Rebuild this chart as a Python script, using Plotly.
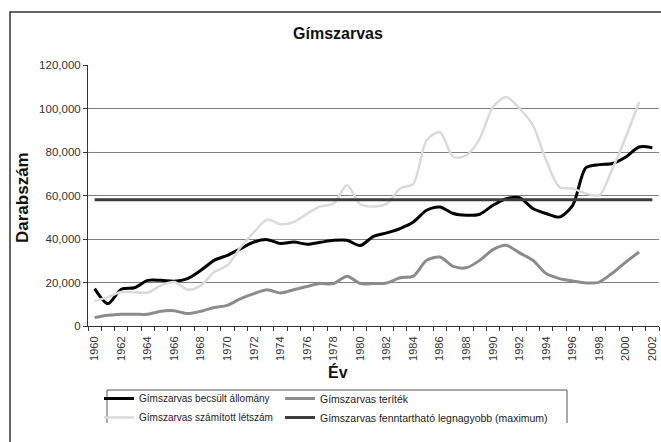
import plotly.graph_objects as go

years = list(range(1960, 2003))

becsult = [17200, 10300, 16900, 17600, 21000, 21000, 20600, 21800, 25600, 30200,
           32500, 35600, 38600, 39700, 37900, 38600, 37600, 38500, 39400, 39400,
           37000, 41200, 42800, 44800, 47800, 53200, 54700, 51700, 50900, 51400,
           55500, 58500, 59000, 54000, 51700, 50100, 55500, 72800, 74200, 74700,
           77700, 82300, 82000]

teritek = [3900, 4900, 5400, 5400, 5400, 6800, 7000, 5700, 6800, 8500,
           9500, 12600, 14900, 16700, 15200, 16700, 18200, 19500, 19500, 22900,
           19500, 19500, 19800, 22200, 22900, 30200, 31700, 27400, 26800, 30200,
           35100, 37100, 33600, 30200, 24100, 21800, 20700, 19800, 20200, 24400,
           29400, 34000, None]

szamitott = [11500, 13300, 15600, 15600, 15400, 18700, 20200, 16700, 18700, 24800,
             27900, 36300, 43200, 48900, 46800, 47800, 51700, 55000, 56300, 64700,
             56000, 55000, 56300, 63200, 65500, 85400, 89200, 77700, 78500, 86200,
             100700, 105300, 100000, 92300, 76200, 63900, 63200, 60900, 60100, 72400,
             86900, 103000, None]

maximum = [58000] * len(years)

names = ["Gímszarvas becsült állomány", "Gímszarvas teríték",
         "Gímszarvas számított létszám", "Gímszarvas fenntartható legnagyobb (maximum)"]

label_years = [y for y in years if y % 2 == 0]
label_text = [str(y) for y in label_years]
boundaries = [y - 0.5 for y in years] + [years[-1] + 0.5]

FONT = "Liberation Sans, Arial, sans-serif"

# layout geometry (pixels)
W, H = 661, 442
L, R, T, B = 88, 2, 65, 116
PW, PH = W - L - R, H - T - B


def px_x(p):
    return (p - L) / PW


def px_y(p):
    return (H - B - p) / PH


fig = go.Figure()

fig.add_trace(go.Scatter(x=years, y=becsult, name=names[0], mode="lines",
                         line=dict(color="#000000", width=3, shape="spline", smoothing=0.8),
                         legend="legend"))
fig.add_trace(go.Scatter(x=years, y=teritek, name=names[1], mode="lines",
                         line=dict(color="#8c8c8c", width=3, shape="spline", smoothing=0.8),
                         legend="legend2"))
fig.add_trace(go.Scatter(x=years, y=szamitott, name=names[2], mode="lines",
                         line=dict(color="#dadada", width=2.5, shape="spline", smoothing=0.8),
                         legend="legend"))
fig.add_trace(go.Scatter(x=years, y=maximum, name=names[3], mode="lines",
                         line=dict(color="#3c3c3c", width=3),
                         legend="legend2"))

fig.update_layout(
    width=W, height=H,
    margin=dict(l=L, r=R, t=T, b=B),
    paper_bgcolor="white", plot_bgcolor="white",
    font=dict(family=FONT, size=11, color="#222"),
    title=dict(text="<b>Gímszarvas</b>", x=338 / W, xref="container", xanchor="center",
               y=1 - 33 / H, yref="container", yanchor="middle",
               font=dict(size=16, color="#111")),
    showlegend=True,
    legend=dict(x=px_x(99), y=px_y(384), xanchor="left", yanchor="top",
                orientation="v", bgcolor="rgba(0,0,0,0)", borderwidth=0,
                font=dict(size=10, color="#222"), tracegroupgap=0),
    legend2=dict(x=px_x(280), y=px_y(384), xanchor="left", yanchor="top",
                 orientation="v", bgcolor="rgba(0,0,0,0)", borderwidth=0,
                 font=dict(size=10.5, color="#222"), tracegroupgap=0),
    xaxis=dict(range=[1959.5, 2002.5], tickmode="array", tickvals=label_years,
               ticktext=label_text, tickangle=-90, ticks="outside", ticklen=5,
               tickcolor="rgba(0,0,0,0)", showgrid=False, zeroline=False,
               showline=True, linecolor="#333", linewidth=1,
               tickfont=dict(size=11, color="#333"),
               minor=dict(tickmode="array", tickvals=boundaries, ticks="outside",
                          ticklen=4, tickcolor="#333", showgrid=False)),
    yaxis=dict(range=[0, 120000], tickmode="linear", tick0=0, dtick=20000,
               tickformat=",", ticks="outside", ticklen=4, tickcolor="#333",
               showgrid=True, gridcolor="#808080", gridwidth=1, zeroline=False,
               showline=True, linecolor="#333", linewidth=1,
               tickfont=dict(size=11.5, color="#333")),
    annotations=[
        dict(text="<b>Darabszám</b>", x=px_x(22), y=px_y(198), xref="paper", yref="paper",
             textangle=-90, showarrow=False, font=dict(size=17, color="#111"),
             xanchor="center", yanchor="middle"),
        dict(text="<b>Év</b>", x=px_x(338), y=px_y(372), xref="paper", yref="paper",
             showarrow=False, font=dict(size=16, color="#111"),
             xanchor="center", yanchor="middle"),
    ],
    shapes=[
        # outer chart frame (cropped on right and bottom)
        dict(type="path", xref="paper", yref="paper",
             path=f"M {px_x(10)},{px_y(445)} L {px_x(10)},{px_y(12)} L {px_x(665)},{px_y(12)}",
             line=dict(color="#333", width=1.5)),
        # legend frame (cropped at bottom)
        dict(type="path", xref="paper", yref="paper",
             path=f"M {px_x(107)},{px_y(423)} L {px_x(107)},{px_y(390)} L {px_x(567)},{px_y(390)} L {px_x(567)},{px_y(423)}",
             line=dict(color="#555", width=1)),
    ],
)

fig.write_html(
    "out.html",
    config={"displayModeBar": False},
    post_script="document.body.style.margin='0px';document.documentElement.style.overflow='hidden';",
)
